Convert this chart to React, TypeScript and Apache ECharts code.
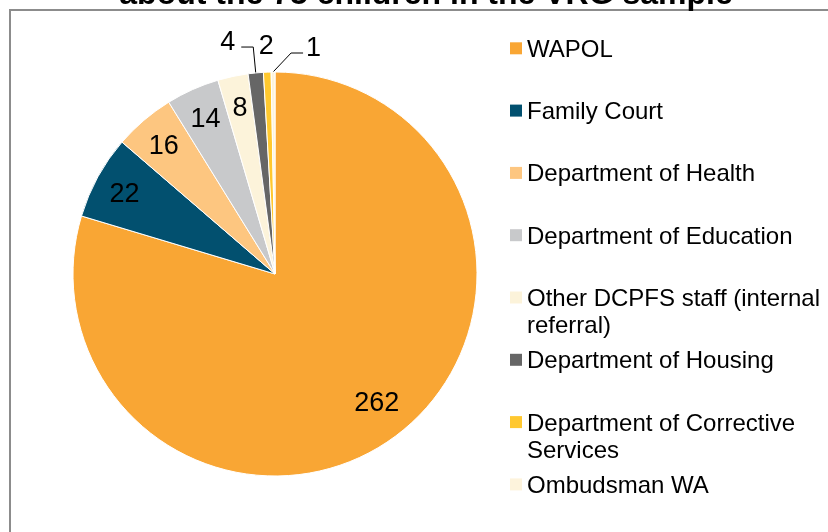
import React, { useEffect, useRef } from 'react';
import * as echarts from 'echarts';

const TITLE = 'about the 75 children in the VRG sample';

const categories = [
  'WAPOL',
  'Family Court',
  'Department of Health',
  'Department of Education',
  'Other DCPFS staff (internal referral)',
  'Department of Housing',
  'Department of Corrective Services',
  'Ombudsman WA',
];

const values = [262, 22, 16, 14, 8, 4, 2, 1];

const legendLines: string[][] = [
  ['WAPOL'],
  ['Family Court'],
  ['Department of Health'],
  ['Department of Education'],
  ['Other DCPFS staff (internal', 'referral)'],
  ['Department of Housing'],
  ['Department of Corrective', 'Services'],
  ['Ombudsman WA'],
];

const colors = ['#F9A634', '#02506F', '#FDC680', '#C8C9CB', '#FCF3DA', '#666666', '#FFC82F', '#FDF3DC'];

const FONT = '"Liberation Sans", Arial, sans-serif';
const CX = 275;
const CY = 274;
const R = 202;
const LH = 27;

export default function App() {
  const ref = useRef<HTMLDivElement>(null);

  useEffect(() => {
    if (!ref.current) return;
    const chart = echarts.init(ref.current, undefined, { renderer: 'svg' });

    const total = values.reduce((a, b) => a + b, 0);
    const mids: number[] = [];
    let acc = 0;
    values.forEach((v) => {
      mids.push(((acc + v / 2) / total) * Math.PI * 2);
      acc += v;
    });
    const pt = (i: number, r: number): [number, number] => [
      CX + r * Math.sin(mids[i]),
      CY - r * Math.cos(mids[i]),
    ];

    const data = categories.map((name, i) => {
      const outside = i >= 5;
      return {
        name,
        value: values[i],
        itemStyle: { color: colors[i] },
        label: { position: outside ? 'outside' : 'inside' },
        labelLine: { show: outside && i !== 6, length: 20, length2: 10, smooth: false, lineStyle: { color: '#000', width: 1 } },
      };
    });

    const legends = categories.map((name, i) => {
      const lines = legendLines[i];
      const n = lines.length;
      const centerY = 48.3 + 62.3 * i;
      // for wrapped entries, pad with leading blank lines so the first line sits on the icon
      const shown = n > 1 ? Array(n - 1).fill('\u00a0').concat(lines) : lines;
      return {
        data: [name],
        left: 510,
        top: centerY - (LH * (2 * n - 1)) / 2,
        orient: 'vertical',
        padding: 0,
        itemWidth: 12,
        itemHeight: 12,
        icon: 'rect',
        selectedMode: false,
        itemStyle: { borderWidth: 0 },
        formatter: () => shown.join('\n'),
        textStyle: {
          fontSize: 24,
          lineHeight: LH,
          color: '#000',
          fontFamily: FONT,
        },
      };
    });

    chart.setOption({
      animation: false,
      textStyle: { fontFamily: FONT },
      legend: legends,
      graphic: [
        {
          type: 'rect',
          silent: true,
          z: -10,
          shape: { x: 10, y: 10, width: 900, height: 600 },
          style: { fill: 'none', stroke: '#8c8c8c', lineWidth: 2 },
        },
        {
          type: 'text',
          x: 426,
          y: -7,
          style: {
            text: TITLE,
            font: 'bold 32px ' + FONT,
            fill: '#000',
            align: 'center',
            verticalAlign: 'middle',
            textAlign: 'center',
            textVerticalAlign: 'middle',
          },
        },
      ],
      series: [
        {
          type: 'pie',
          center: [CX, CY],
          radius: R,
          startAngle: 90,
          clockwise: true,
          data,
          itemStyle: { borderColor: '#fff', borderWidth: 1 },
          label: {
            show: true,
            formatter: '{c}',
            fontSize: 27,
            color: '#000',
            fontFamily: FONT,
          },
          emphasis: { disabled: true },
          labelLayout: (p: any) => {
            const i = p.dataIndex;
            if (i <= 4) {
              const [x, y] = pt(i, R * (i === 0 ? 0.81 : 0.855));
              return { x: x + (i === 0 ? 4 : 1), y: y + (i === 0 ? -3 : 2), align: 'center', verticalAlign: 'middle' };
            }
            const a = pt(i, R);
            if (i === 5) {
              const p1 = pt(i, R + 26);
              const p2: [number, number] = [p1[0] - 12, p1[1]];
              return { x: p2[0] - 6, y: p2[1] - 6, align: 'right', verticalAlign: 'middle', labelLinePoints: [a, p1, p2] };
            }
            if (i === 6) {
              const c = pt(i, R + 27);
              return { x: c[0], y: c[1], align: 'center', verticalAlign: 'middle' };
            }
            const p1: [number, number] = [a[0] + 18, a[1] - 19];
            const p2: [number, number] = [p1[0] + 12, p1[1]];
            return { x: p2[0] + 3, y: p2[1] - 6.5, align: 'left', verticalAlign: 'middle', labelLinePoints: [a, p1, p2] };
          },
        },
      ],
    });

    return () => chart.dispose();
  }, []);

  return <div ref={ref} style={{ position: 'fixed', left: 0, top: 0, width: 828, height: 532 }} />;
}
